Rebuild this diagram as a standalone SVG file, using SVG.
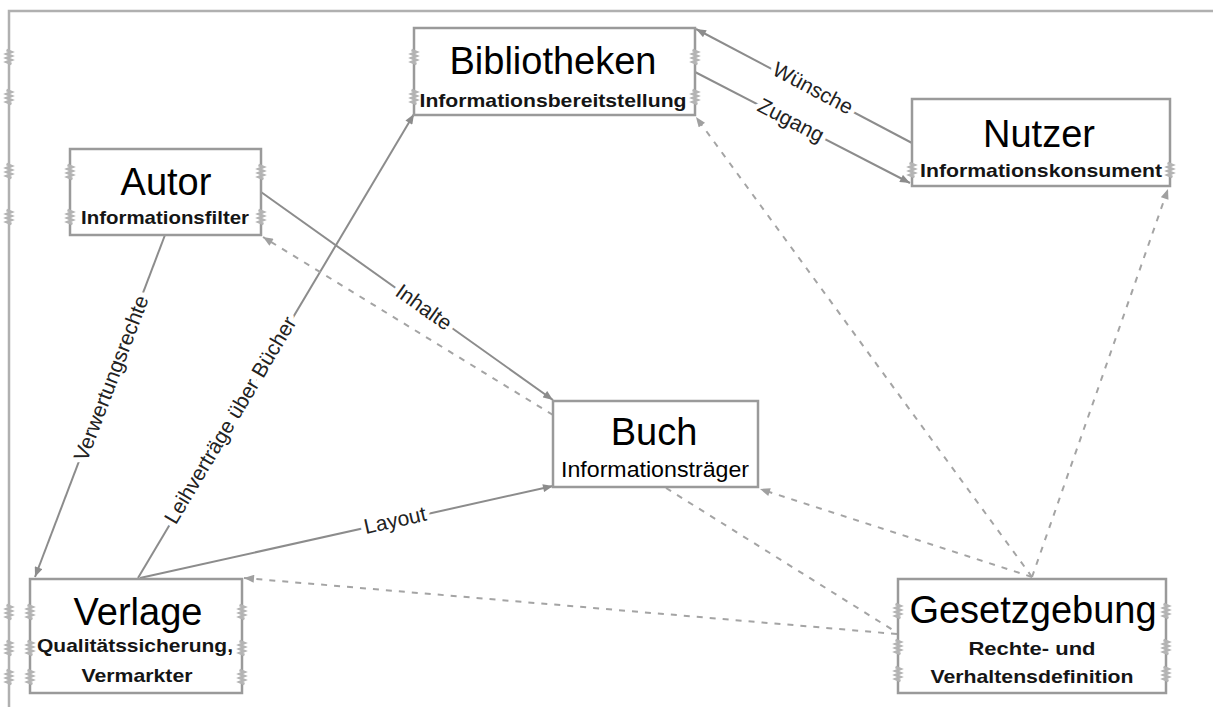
<svg xmlns="http://www.w3.org/2000/svg" xmlns:xlink="http://www.w3.org/1999/xlink" width="1213" height="707" viewBox="0 0 1213 707">
  <style>
    .box { fill: #ffffff; stroke: #9a9a9a; stroke-width: 2.5; }
    .title { font-family: "Liberation Sans", Arial, sans-serif; font-size: 38px; fill: #000; text-anchor: middle; }
    .sub { font-family: "Liberation Sans", Arial, sans-serif; font-size: 19px; font-weight: bold; fill: #151515; text-anchor: middle; }
    .subn { font-family: "Liberation Sans", Arial, sans-serif; font-size: 22px; fill: #000; text-anchor: middle; }
    .solid { fill: none; stroke: #8c8c8c; stroke-width: 2; }
    .dash { fill: none; stroke: #a4a4a4; stroke-width: 2; stroke-dasharray: 6 7; }
    .lbl { font-family: "Liberation Sans", Arial, sans-serif; font-size: 21px; fill: #222; text-anchor: middle; stroke: #fff; stroke-width: 10; stroke-linejoin: round; paint-order: stroke; }
    .frame { fill: none; stroke: #b0b0b0; stroke-width: 2.5; }
  </style>
  <defs>
    <marker id="arr" viewBox="0 0 10 8" refX="10" refY="4" markerWidth="11" markerHeight="8" markerUnits="userSpaceOnUse" orient="auto">
      <path d="M0,0 L10,4 L0,8 Z" fill="#8c8c8c"/>
    </marker>
    <marker id="arrd" viewBox="0 0 10 8" refX="10" refY="4" markerWidth="11" markerHeight="8" markerUnits="userSpaceOnUse" orient="auto">
      <path d="M0,0 L10,4 L0,8 Z" fill="#a0a0a0"/>
    </marker>
    <!-- small resize grip drawn on frame and box edges -->
    <path id="grip" d="M-2.5,-7 L2.5,-5 L-2.5,-3 L2.5,-1 L-2.5,1 L2.5,3 L-2.5,5 L2.5,7" fill="none" stroke="#b4b4b4" stroke-width="2.5"/>
  </defs>

  <!-- outer frame -->
  <g id="frame">
    <path class="frame" d="M9,707 L9,11 L1213,11"/>
    <use xlink:href="#grip" x="9" y="57"/>
    <use xlink:href="#grip" x="9" y="97"/>
    <use xlink:href="#grip" x="9" y="171"/>
    <use xlink:href="#grip" x="9" y="217"/>
    <use xlink:href="#grip" x="9" y="612"/>
    <use xlink:href="#grip" x="9" y="648"/>
    <use xlink:href="#grip" x="9" y="677"/>
  </g>

  <!-- connectors -->
  <g id="connectors">
    <!-- solid relations -->
    <line class="solid" x1="912" y1="143" x2="696" y2="29" marker-end="url(#arr)"/>
    <line class="solid" x1="695" y1="72" x2="910" y2="183" marker-end="url(#arr)"/>
    <line class="solid" x1="261" y1="192" x2="553" y2="400" marker-end="url(#arr)"/>
    <line class="solid" x1="165" y1="235" x2="35" y2="577" marker-end="url(#arr)"/>
    <line class="solid" x1="138" y1="578" x2="414" y2="114" marker-end="url(#arr)"/>
    <line class="solid" x1="140" y1="578" x2="553" y2="486" marker-end="url(#arr)"/>
    <!-- dashed relations -->
    <line class="dash" x1="553" y1="415" x2="263" y2="237" marker-end="url(#arrd)"/>
    <line class="dash" x1="897" y1="634" x2="244" y2="578" marker-end="url(#arrd)"/>
    <line class="dash" x1="1032" y1="577" x2="760" y2="489" marker-end="url(#arrd)"/>
    <line class="dash" x1="666" y1="488" x2="896" y2="632"/>
    <line class="dash" x1="1032" y1="577" x2="696" y2="117" marker-end="url(#arrd)"/>
    <line class="dash" x1="1032" y1="577" x2="1168" y2="189" marker-end="url(#arrd)"/>
    <!-- labels -->
    <text class="lbl" transform="translate(813,88) rotate(27.9)" dy="0.35em">Wünsche</text>
    <text class="lbl" transform="translate(791,120) rotate(27.3)" dy="0.35em">Zugang</text>
    <text class="lbl" transform="translate(424,307) rotate(35.5)" dy="0.35em">Inhalte</text>
    <text class="lbl" transform="translate(111,378) rotate(-69.2)" dy="0.35em">Verwertungsrechte</text>
    <text class="lbl" transform="translate(230,420) rotate(-59.2)" dy="0.35em">Leihverträge über Bücher</text>
    <text class="lbl" transform="translate(395,520) rotate(-12.6)" dy="0.35em">Layout</text>
  </g>

  <g id="autor">
    <rect class="box" x="70" y="149" width="191" height="86"/>
    <use xlink:href="#grip" x="70" y="172"/>
    <use xlink:href="#grip" x="70" y="217"/>
    <use xlink:href="#grip" x="261" y="172"/>
    <use xlink:href="#grip" x="261" y="217"/>
    <text class="title" x="166" y="195">Autor</text>
    <text class="sub" x="165" y="224" textLength="168" lengthAdjust="spacingAndGlyphs">Informationsfilter</text>
  </g>

  <g id="bibliotheken">
    <rect class="box" x="414" y="28" width="281" height="87"/>
    <use xlink:href="#grip" x="414" y="57"/>
    <use xlink:href="#grip" x="414" y="97"/>
    <use xlink:href="#grip" x="695" y="57"/>
    <use xlink:href="#grip" x="695" y="97"/>
    <text class="title" x="553" y="74">Bibliotheken</text>
    <text class="sub" x="553" y="107" textLength="267" lengthAdjust="spacingAndGlyphs">Informationsbereitstellung</text>
  </g>

  <g id="nutzer">
    <rect class="box" x="912" y="99" width="258" height="87"/>
    <use xlink:href="#grip" x="912" y="170"/>
    <use xlink:href="#grip" x="1170" y="170"/>
    <text class="title" x="1039" y="147">Nutzer</text>
    <text class="sub" x="1041" y="177" textLength="242" lengthAdjust="spacingAndGlyphs">Informationskonsument</text>
  </g>

  <g id="buch">
    <rect class="box" x="553" y="401" width="205" height="86"/>
    <text class="title" x="654" y="445">Buch</text>
    <text class="subn" x="655" y="477" textLength="188" lengthAdjust="spacingAndGlyphs">Informationsträger</text>
  </g>

  <g id="verlage">
    <rect class="box" x="30" y="579" width="212" height="114"/>
    <use xlink:href="#grip" x="30" y="612"/>
    <use xlink:href="#grip" x="30" y="648"/>
    <use xlink:href="#grip" x="30" y="677"/>
    <use xlink:href="#grip" x="242" y="612"/>
    <use xlink:href="#grip" x="242" y="648"/>
    <use xlink:href="#grip" x="242" y="677"/>
    <text class="title" x="138" y="625">Verlage</text>
    <text class="sub" x="135" y="652" textLength="196" lengthAdjust="spacingAndGlyphs">Qualitätssicherung,</text>
    <text class="sub" x="137" y="682" textLength="111" lengthAdjust="spacingAndGlyphs">Vermarkter</text>
  </g>

  <g id="gesetzgebung">
    <rect class="box" x="898" y="579" width="268" height="114"/>
    <use xlink:href="#grip" x="898" y="611"/>
    <use xlink:href="#grip" x="898" y="647"/>
    <use xlink:href="#grip" x="898" y="674"/>
    <use xlink:href="#grip" x="1166" y="611"/>
    <use xlink:href="#grip" x="1166" y="647"/>
    <use xlink:href="#grip" x="1166" y="674"/>
    <text class="title" x="1033" y="623">Gesetzgebung</text>
    <text class="sub" x="1032" y="655" textLength="127" lengthAdjust="spacingAndGlyphs">Rechte- und</text>
    <text class="sub" x="1032" y="683" textLength="203" lengthAdjust="spacingAndGlyphs">Verhaltensdefinition</text>
  </g>
</svg>
